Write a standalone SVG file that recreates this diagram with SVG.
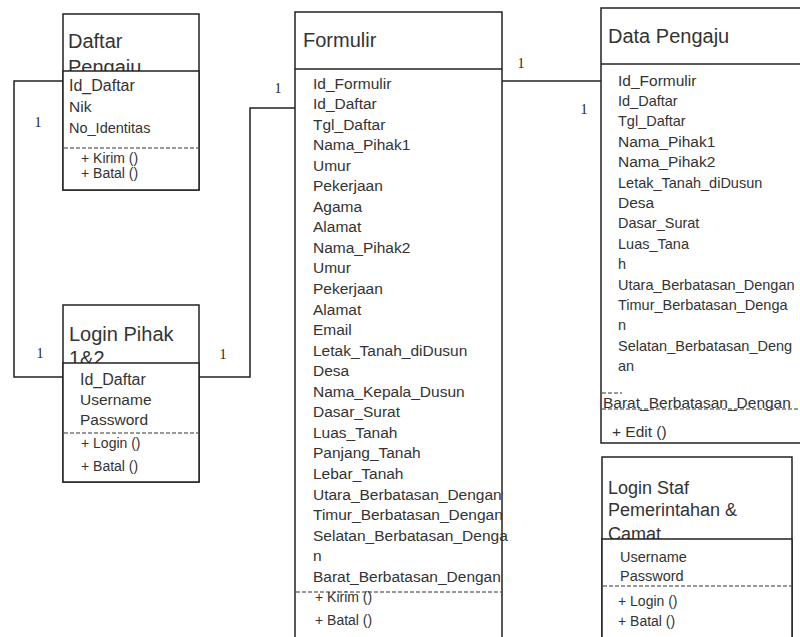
<svg xmlns="http://www.w3.org/2000/svg" width="800" height="637" viewBox="0 0 800 637">
<style>
.box{fill:#fff;stroke:#222;stroke-width:1.5}
.div{stroke:#222;stroke-width:1.5}
.dash{stroke:#333;stroke-width:1;stroke-dasharray:4,2}
.conn{fill:none;stroke:#222;stroke-width:1.5}
text{font-family:"Liberation Sans",Arial,sans-serif;fill:#333}
.t{font-size:20px}
.ts{font-size:18px}
.a{font-size:15.5px}
.a2{font-size:14.5px}
.ab{font-size:16px}
.m{font-size:14px}
.lbl{font-family:"Liberation Serif","Times New Roman",serif;font-size:14px;fill:#222;text-anchor:middle}
</style>
<rect width="800" height="637" fill="#fff"/>

<g id="connectors">
<path class="conn" d="M63,81 H14 V377 H63"/>
<path class="conn" d="M199,377 H250 V108 H295"/>
<path class="conn" d="M502,81 H601"/>
<text class="lbl" x="38" y="127">1</text>
<text class="lbl" x="40" y="358">1</text>
<text class="lbl" x="223" y="359">1</text>
<text class="lbl" x="278" y="93">1</text>
<text class="lbl" x="521" y="68">1</text>
<text class="lbl" x="584" y="114">1</text>
</g>

<g id="daftar-pengaju">
<rect class="box" x="63" y="14" width="136" height="176"/>
<text class="t" x="68" y="48">Daftar</text>
<text class="t" x="68" y="74">Pengaju</text>
<rect class="box" x="63" y="71" width="136" height="119"/>
<text class="ab" x="69" y="91">Id_Daftar</text>
<text class="a" x="69" y="112">Nik</text>
<text class="a2" x="69" y="133">No_Identitas</text>
<line class="dash" x1="64" y1="148" x2="198" y2="148"/>
<text class="m" x="81" y="163">+ Kirim ()</text>
<text class="m" x="81" y="178">+ Batal ()</text>
</g>

<g id="login-pihak">
<rect class="box" x="63" y="305" width="136" height="177"/>
<text class="t" x="69" y="341">Login Pihak</text>
<text class="t" x="69" y="365">1&amp;2</text>
<rect class="box" x="63" y="363" width="136" height="119"/>
<text class="ab" x="80" y="385">Id_Daftar</text>
<text class="a" x="80" y="405">Username</text>
<text class="a" x="80" y="425">Password</text>
<line class="dash" x1="64" y1="433" x2="198" y2="433"/>
<text class="m" x="81" y="448">+ Login ()</text>
<text class="m" x="81" y="471">+ Batal ()</text>
</g>

<g id="formulir">
<rect class="box" x="295" y="12" width="207" height="640"/>
<line class="div" x1="295" y1="69" x2="502" y2="69"/>
<text class="t" x="303" y="47">Formulir</text>
<text class="a" x="313" y="88.5">Id_Formulir</text>
<text class="a" x="313" y="109">Id_Daftar</text>
<text class="a" x="313" y="129.6">Tgl_Daftar</text>
<text class="a" x="313" y="150.1">Nama_Pihak1</text>
<text class="a" x="313" y="170.7">Umur</text>
<text class="a" x="313" y="191.2">Pekerjaan</text>
<text class="a" x="313" y="211.8">Agama</text>
<text class="a" x="313" y="232.3">Alamat</text>
<text class="a" x="313" y="252.9">Nama_Pihak2</text>
<text class="a" x="313" y="273.4">Umur</text>
<text class="a" x="313" y="294">Pekerjaan</text>
<text class="a" x="313" y="314.5">Alamat</text>
<text class="a" x="313" y="335.1">Email</text>
<text class="a" x="313" y="355.6">Letak_Tanah_diDusun</text>
<text class="a" x="313" y="376.2">Desa</text>
<text class="a" x="313" y="396.7">Nama_Kepala_Dusun</text>
<text class="a" x="313" y="417.3">Dasar_Surat</text>
<text class="a" x="313" y="437.8">Luas_Tanah</text>
<text class="a" x="313" y="458.4">Panjang_Tanah</text>
<text class="a" x="313" y="478.9">Lebar_Tanah</text>
<text class="a" x="313" y="499.5">Utara_Berbatasan_Dengan</text>
<text class="a" x="313" y="520">Timur_Berbatasan_Dengan</text>
<text class="a" x="313" y="540.6">Selatan_Berbatasan_Denga</text>
<text class="a" x="313" y="561.1">n</text>
<text class="a" x="313" y="581.7">Barat_Berbatasan_Dengan</text>
<line class="dash" x1="296" y1="592" x2="501" y2="592"/>
<text class="m" x="315" y="602">+ Kirim ()</text>
<text class="m" x="315" y="625">+ Batal ()</text>
</g>

<g id="data-pengaju">
<rect class="box" x="601" y="8" width="220" height="435"/>
<line class="div" x1="601" y1="64" x2="821" y2="64"/>
<text class="t" x="608" y="43">Data Pengaju</text>
<text class="a" x="618" y="85.5">Id_Formulir</text>
<text class="a2" x="618" y="105.9">Id_Daftar</text>
<text class="a2" x="618" y="126.3">Tgl_Daftar</text>
<text class="a" x="618" y="146.7">Nama_Pihak1</text>
<text class="a" x="618" y="167.1">Nama_Pihak2</text>
<text class="a2" x="618" y="187.5">Letak_Tanah_diDusun</text>
<text class="a" x="618" y="207.9">Desa</text>
<text class="a2" x="618" y="228.3">Dasar_Surat</text>
<text class="a2" x="618" y="248.7">Luas_Tana</text>
<text class="a2" x="618" y="269.1">h</text>
<text class="a2" x="618" y="289.5">Utara_Berbatasan_Dengan</text>
<text class="a2" x="618" y="309.9">Timur_Berbatasan_Denga</text>
<text class="a2" x="618" y="330.3">n</text>
<text class="a2" x="618" y="350.7">Selatan_Berbatasan_Deng</text>
<text class="a2" x="618" y="371.1">an</text>
<line class="dash" x1="602" y1="393" x2="622" y2="393"/>
<text class="a" x="603" y="408">Barat_Berbatasan_Dengan</text>
<line class="dash" x1="602" y1="409" x2="800" y2="409"/>
<text class="a" x="612" y="437">+ Edit ()</text>
</g>

<g id="login-staf">
<rect class="box" x="602" y="457" width="190" height="200"/>
<text class="ts" x="608" y="494">Login Staf</text>
<text class="ts" x="608" y="516">Pemerintahan &amp;</text>
<text class="ts" x="608" y="540">Camat</text>
<rect class="box" x="602" y="539" width="190" height="118"/>
<text class="a2" x="620" y="562">Username</text>
<text class="a2" x="620" y="581">Password</text>
<line class="dash" x1="603" y1="586" x2="791" y2="586"/>
<text class="m" x="618" y="606">+ Login ()</text>
<text class="m" x="618" y="626">+ Batal ()</text>
</g>
</svg>
